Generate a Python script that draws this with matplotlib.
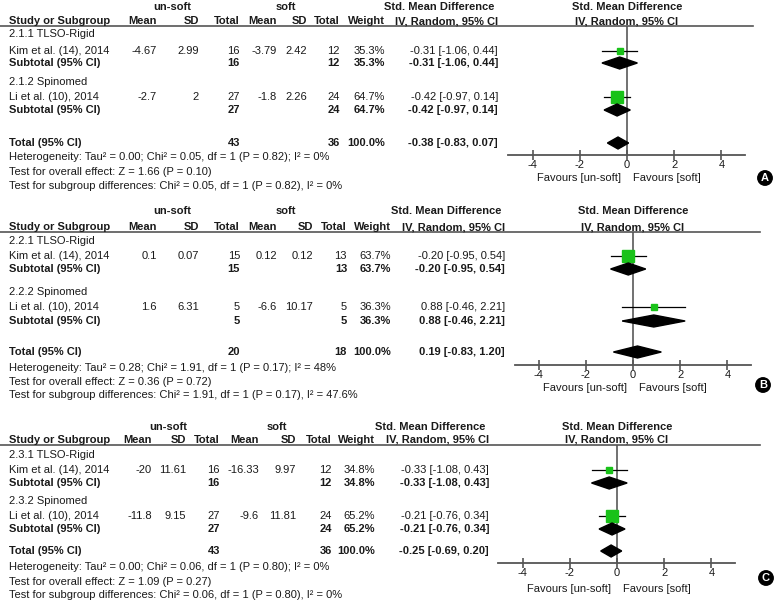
import matplotlib
matplotlib.use("Agg")
import matplotlib.pyplot as plt
from matplotlib.lines import Line2D
from matplotlib.patches import Polygon

plt.rcParams['font.family'] = ['Liberation Sans', 'DejaVu Sans']

W, H = 776, 602
FS = 8
TXT = '#1a1a1a'
GREEN = '#19c219'

# ---- data (one entry per panel A, B, C; inner lists = the two studies) ----
panel_letters = ["A", "B", "C"]
study_labels = ["Kim et al. (14), 2014", "Li et al. (10), 2014"]
subgroup_names = [["2.1.1 TLSO-Rigid", "2.1.2 Spinomed"],
                  ["2.2.1 TLSO-Rigid", "2.2.2 Spinomed"],
                  ["2.3.1 TLSO-Rigid", "2.3.2 Spinomed"]]
unsoft_mean = [[-4.67, -2.7], [0.1, 1.6], [-20, -11.8]]
unsoft_sd = [[2.99, 2], [0.07, 6.31], [11.61, 9.15]]
unsoft_n = [[16, 27], [15, 5], [16, 27]]
soft_mean = [[-3.79, -1.8], [0.12, -6.6], [-16.33, -9.6]]
soft_sd = [[2.42, 2.26], [0.12, 10.17], [9.97, 11.81]]
soft_n = [[12, 24], [13, 5], [12, 24]]
weights = [[35.3, 64.7], [63.7, 36.3], [34.8, 65.2]]
smd = [[-0.31, -0.42], [-0.20, 0.88], [-0.33, -0.21]]
smd_lo = [[-1.06, -0.97], [-0.95, -0.46], [-1.08, -0.76]]
smd_hi = [[0.44, 0.14], [0.54, 2.21], [0.43, 0.34]]
total_smd = [-0.38, 0.19, -0.25]
total_lo = [-0.83, -0.83, -0.69]
total_hi = [0.07, 1.20, 0.20]
heterogeneity = [
    "Heterogeneity: Tau² = 0.00; Chi² = 0.05, df = 1 (P = 0.82); I² = 0%",
    "Heterogeneity: Tau² = 0.28; Chi² = 1.91, df = 1 (P = 0.17); I² = 48%",
    "Heterogeneity: Tau² = 0.00; Chi² = 0.06, df = 1 (P = 0.80); I² = 0%"]
overall_effect = ["Test for overall effect: Z = 1.66 (P = 0.10)",
                  "Test for overall effect: Z = 0.36 (P = 0.72)",
                  "Test for overall effect: Z = 1.09 (P = 0.27)"]
subgroup_diff = [
    "Test for subgroup differences: Chi² = 0.05, df = 1 (P = 0.82), I² = 0%",
    "Test for subgroup differences: Chi² = 1.91, df = 1 (P = 0.17), I² = 47.6%",
    "Test for subgroup differences: Chi² = 0.06, df = 1 (P = 0.80), I² = 0%"]
xticks = [-4, -2, 0, 2, 4]

# ---- layout in pixels ----
rows = [  # hdr1, hdr2, line, sg1, s1, sub1, sg2, s2, sub2, total, het, ov, sgd
    [7, 21, 26, 34, 51, 63, 82, 97, 110, 143, 157, 172, 186],
    [211, 227, 232, 241, 256, 269, 292, 307, 321, 352, 368, 382, 395],
    [427, 440, 445, 455, 470, 483, 501, 516, 529, 551, 567, 582, 595]]
cols = [  # mean1, sd1, n1, mean2, sd2, n2, weight, smd, unsoft-c, soft-c
    [157, 199, 240, 277, 307, 340, 385, 498, 172, 286],
    [157, 199, 240, 277, 313, 347, 391, 505, 172, 286],
    [152, 186, 220, 259, 296, 332, 375, 489, 168, 277]]
forest = [  # zero x, axis left, axis right, axis y, line right end, tick y, fav y
    [627, 508, 745, 155, 753, 165, 178],
    [633, 515, 751, 365, 760, 375, 388],
    [617, 498, 735, 563, 760, 575, 589]]
badges = [(765, 178), (763, 385), (766, 578)]
UNIT = 23.6
LEFT = 9

fig = plt.figure(figsize=(W / 100, H / 100), dpi=100)


def t(x, y, s, ha='left', bold=False, **kw):
    fig.text(x / W, 1 - y / H, s, ha=ha, va='center', fontsize=FS,
             color=TXT, fontweight='bold' if bold else 'normal', **kw)


def fmt(v):
    return f"{v:g}"


for p in range(3):
    r, c, f = rows[p], cols[p], forest[p]
    # header
    t(c[8], r[0], "un-soft", ha='center', bold=True)
    t(c[9], r[0], "soft", ha='center', bold=True)
    t(c[7] - 4, r[0], "Std. Mean Difference", ha='right', bold=True)
    t(f[0], r[0], "Std. Mean Difference", ha='center', bold=True)
    t(LEFT, r[1], "Study or Subgroup", bold=True)
    for x, s in zip(c[:7], ["Mean", "SD", "Total", "Mean", "SD", "Total", "Weight"]):
        t(x, r[1], s, ha='right', bold=True)
    t(c[7], r[1], "IV, Random, 95% CI", ha='right', bold=True)
    t(f[0], r[1], "IV, Random, 95% CI", ha='center', bold=True)
    fig.add_artist(Line2D([0, f[4] / W], [1 - r[2] / H] * 2, color='#555555', lw=1.2))

    # forest axes
    x0, xl, xr, ay = f[0], f[1], f[2], f[3]
    ax = fig.add_axes([xl / W, 1 - ay / H, (xr - xl) / W, (ay - r[2]) / H])
    ax.set_xlim((xl - x0) / UNIT, (xr - x0) / UNIT)
    ax.set_ylim(ay, r[2])
    for s in ['left', 'right', 'top']:
        ax.spines[s].set_visible(False)
    ax.spines['bottom'].set_color('#555555')
    ax.spines['bottom'].set_linewidth(1.3)
    ax.set_yticks([])
    ax.set_xticks(xticks)
    ax.set_xticklabels([str(v) for v in xticks], fontsize=FS, color=TXT)
    ax.tick_params(axis='x', direction='inout', length=7, width=1.2,
                   color='#555555', pad=0)
    ax.axvline(0, color='#666666', lw=1.3, zorder=1)
    ax.patch.set_alpha(0)

    for i in range(2):
        ys, ysub, ysg = r[4 + 3 * i], r[5 + 3 * i], r[3 + 3 * i]
        t(LEFT, ysg, subgroup_names[p][i])
        t(LEFT, ys, study_labels[i])
        vals = [unsoft_mean[p][i], unsoft_sd[p][i], unsoft_n[p][i],
                soft_mean[p][i], soft_sd[p][i], soft_n[p][i]]
        for x, v in zip(c[:6], vals):
            t(x, ys, fmt(v), ha='right')
        t(c[6], ys, f"{weights[p][i]:.1f}%", ha='right')
        ci = f"{smd[p][i]:.2f} [{smd_lo[p][i]:.2f}, {smd_hi[p][i]:.2f}]"
        t(c[7], ys, ci, ha='right')
        t(LEFT, ysub, "Subtotal (95% CI)", bold=True)
        t(c[2], ysub, str(unsoft_n[p][i]), ha='right', bold=True)
        t(c[5], ysub, str(soft_n[p][i]), ha='right', bold=True)
        t(c[6], ysub, f"{weights[p][i]:.1f}%", ha='right', bold=True)
        t(c[7], ysub, ci, ha='right', bold=True)

        ax.plot([smd_lo[p][i], smd_hi[p][i]], [ys, ys], color='black', lw=0.9, zorder=2)
        side = 0.175 * weights[p][i]
        ax.plot(smd[p][i], ys, marker='s', ms=side * 0.72, color=GREEN,
                mec=GREEN, zorder=3)
        ax.add_patch(Polygon([(smd_lo[p][i], ysub), (smd[p][i], ysub - 6),
                              (smd_hi[p][i], ysub), (smd[p][i], ysub + 6)],
                             closed=True, color='black', zorder=3))

    yt = r[9]
    t(LEFT, yt, "Total (95% CI)", bold=True)
    t(c[2], yt, str(sum(unsoft_n[p])), ha='right', bold=True)
    t(c[5], yt, str(sum(soft_n[p])), ha='right', bold=True)
    t(c[6], yt, "100.0%", ha='right', bold=True)
    t(c[7], yt, f"{total_smd[p]:.2f} [{total_lo[p]:.2f}, {total_hi[p]:.2f}]",
      ha='right', bold=True)
    ax.add_patch(Polygon([(total_lo[p], yt), (total_smd[p], yt - 6),
                          (total_hi[p], yt), (total_smd[p], yt + 6)],
                         closed=True, color='black', zorder=3))
    t(LEFT, r[10], heterogeneity[p])
    t(LEFT, r[11], overall_effect[p])
    t(LEFT, r[12], subgroup_diff[p])

    t(x0 - 6, f[6], "Favours [un-soft]", ha='right')
    t(x0 + 6, f[6], "Favours [soft]", ha='left')

    bx, by = badges[p]
    fig.text(bx / W, 1 - by / H, panel_letters[p], ha='center', va='center',
             fontsize=8, color='white', fontweight='bold',
             bbox=dict(boxstyle='circle,pad=0.2', fc='black', ec='black'))

fig.savefig("out.png", dpi=100)
